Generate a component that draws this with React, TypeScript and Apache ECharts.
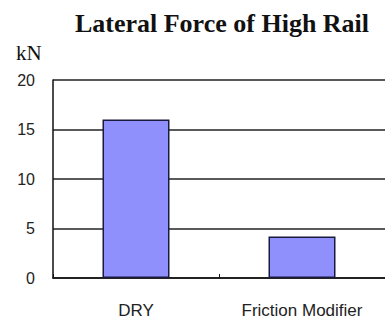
import React, { useEffect, useRef } from "react";
import * as echarts from "echarts";

const categories = ["DRY", "Friction Modifier"];
const lateralForce = [16.0, 4.2];
const yTicks = { min: 0, max: 20, interval: 5 };
const titleText = "Lateral Force of High Rail";
const unitText = "kN";

export default function App() {
  const ref = useRef<HTMLDivElement>(null);
  useEffect(() => {
    if (!ref.current) return;
    const chart = echarts.init(ref.current, null, { renderer: "svg" });
    chart.setOption({
      animation: false,
      backgroundColor: "#ffffff",
      title: {
        text: titleText,
        left: 217,
        top: 5,
        textAlign: "center",
        textStyle: {
          fontFamily: "Liberation Serif, Times New Roman, serif",
          fontWeight: "bold",
          fontSize: 26,
          color: "#111",
        },
      },
      graphic: [
        {
          type: "text",
          left: 16,
          top: 42,
          style: {
            text: unitText,
            fontFamily: "Liberation Serif, Times New Roman, serif",
            fontSize: 21,
            fill: "#111",
          },
        },
      ],
      grid: { left: 53, top: 80, width: 334, height: 198, containLabel: false },
      xAxis: {
        type: "category",
        data: categories,
        axisLine: { lineStyle: { color: "#111", width: 1.5 } },
        axisTick: { show: true, inside: true, length: 4, alignWithLabel: false, lineStyle: { color: "#111" } },
        axisLabel: {
          margin: 24,
          fontFamily: "Liberation Sans, Arial, sans-serif",
          fontSize: 17,
          color: "#222",
        },
      },
      yAxis: {
        type: "value",
        min: yTicks.min,
        max: yTicks.max,
        interval: yTicks.interval,
        axisLine: { show: true, lineStyle: { color: "#111", width: 1.5 } },
        axisTick: { show: false },
        splitLine: { show: true, lineStyle: { color: "#222", width: 1.5 } },
        axisLabel: {
          margin: 18,
          fontFamily: "Liberation Sans, Arial, sans-serif",
          fontSize: 16,
          color: "#222",
        },
      },
      series: [
        {
          type: "bar",
          data: lateralForce,
          barWidth: 67,
          itemStyle: { color: "#8f90fb", borderColor: "#1a1a40", borderWidth: 1.5 },
        },
      ],
    });
    return () => chart.dispose();
  }, []);
  return (
    <div
      ref={ref}
      style={{ position: "absolute", left: 0, top: 0, width: 385, height: 324 }}
    />
  );
}
